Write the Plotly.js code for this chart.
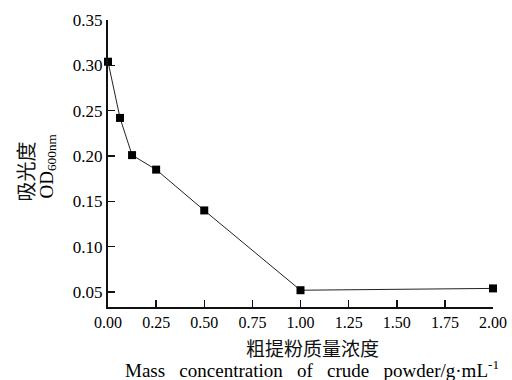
<!DOCTYPE html>
<html>
<head>
<meta charset="utf-8">
<script src="https://cdn.plot.ly/plotly-3.0.1.min.js"></script>
<style>html,body{margin:0;padding:0;background:#fff;}#chart{width:512px;height:380px;}</style>
</head>
<body>
<div id="chart"></div>
<script>
const concentration = [0, 0.0625, 0.125, 0.25, 0.5, 1.0, 2.0];
const od600 = [0.304, 0.242, 0.201, 0.185, 0.140, 0.052, 0.054];
const xTickVals = [0, 0.25, 0.5, 0.75, 1.0, 1.25, 1.5, 1.75, 2.0];
const xTickText = ['0.00','0.25','0.50','0.75','1.00','1.25','1.50','1.75','2.00'];
const yTickVals = [0.05, 0.10, 0.15, 0.20, 0.25, 0.30, 0.35];
const yTickText = ['0.05','0.10','0.15','0.20','0.25','0.30','0.35'];

const serif = 'Liberation Serif';
const cjk = 'Noto Sans CJK SC';

const trace = {
  x: concentration, y: od600, type: 'scatter', mode: 'lines+markers',
  line: {color: '#222', width: 1},
  marker: {symbol: 'square', size: 8, color: '#000'},
  cliponaxis: false
};

const layout = {
  width: 512, height: 380,
  margin: {l: 108, r: 19, t: 20, b: 73},
  paper_bgcolor: '#fff', plot_bgcolor: '#fff',
  showlegend: false,
  font: {family: serif, color: '#000', size: 17},
  xaxis: {
    range: [0, 2], tickvals: xTickVals, ticktext: xTickText,
    ticks: 'inside', ticklen: 7, tickwidth: 1.5, tickcolor: '#111',
    showline: true, linecolor: '#111', linewidth: 2, showgrid: false, zeroline: false,
    tickfont: {family: serif, size: 16, color: '#000'}
  },
  yaxis: {
    range: [0.0335, 0.35], tickvals: yTickVals, ticktext: yTickText,
    ticks: 'inside', ticklen: 7, tickwidth: 1.5, tickcolor: '#111',
    showline: true, linecolor: '#111', linewidth: 2, showgrid: false, zeroline: false,
    tickfont: {family: serif, size: 17, color: '#000'}
  },
  annotations: [
    {text: '吸光度', xref: 'paper', yref: 'paper', x: 0, y: 0.5, xanchor: 'center', yanchor: 'middle',
     xshift: -83, yshift: -8, textangle: -90, showarrow: false, font: {family: cjk, size: 20, color: '#111'}},
    {text: 'OD<sub>600nm</sub>', xref: 'paper', yref: 'paper', x: 0, y: 0.5, xanchor: 'center', yanchor: 'middle',
     xshift: -61, yshift: -3, textangle: -90, showarrow: false, font: {family: serif, size: 19, color: '#000'}},
    {text: '粗提粉质量浓度', xref: 'paper', yref: 'paper', x: 0.53, y: 0, xanchor: 'center', yanchor: 'middle',
     yshift: -40, showarrow: false, font: {family: cjk, size: 19, color: '#111'}},
    {text: 'Mass\u00a0\u00a0\u00a0concentration\u00a0\u00a0\u00a0of\u00a0\u00a0\u00a0crude\u00a0\u00a0\u00a0powder/g·mL<sup>-1</sup>', xref: 'paper', yref: 'paper', x: 0.53, y: 0, xanchor: 'center', yanchor: 'middle',
     yshift: -62, showarrow: false, font: {family: serif, size: 19, color: '#000'}}
  ]
};

Plotly.newPlot('chart', [trace], layout, {displayModeBar: false, staticPlot: true});
</script>
</body>
</html>
